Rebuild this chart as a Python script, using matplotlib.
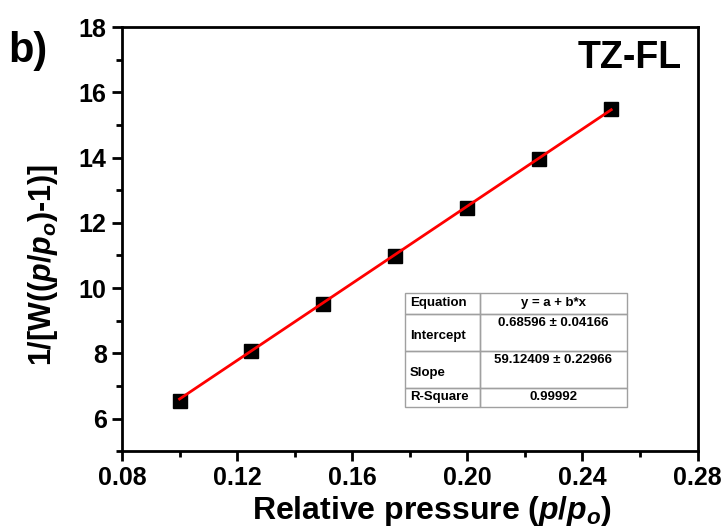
import matplotlib.pyplot as plt
from matplotlib.patches import Rectangle
from matplotlib.ticker import MultipleLocator

plt.rcParams['font.family'] = ['Liberation Sans', 'DejaVu Sans']
plt.rcParams['font.weight'] = 'bold'
plt.rcParams['axes.labelweight'] = 'bold'
plt.rcParams['mathtext.fontset'] = 'custom'
plt.rcParams['mathtext.it'] = 'Liberation Sans:italic:bold'
plt.rcParams['mathtext.rm'] = 'Liberation Sans:bold'

# data
rel_pressure = [0.10, 0.125, 0.15, 0.175, 0.20, 0.225, 0.25]
bet_value = [6.55, 8.06, 9.52, 10.98, 12.45, 13.96, 15.48]
intercept = 0.68596
slope = 59.12409

table_rows = [
    ('Equation', 'y = a + b*x'),
    ('Intercept', '0.68596 \u00b1 0.04166'),
    ('Slope', '59.12409 \u00b1 0.22966'),
    ('R-Square', '0.99992'),
]

fig = plt.figure(figsize=(7.24, 5.32), dpi=100)
ax = fig.add_axes([0.1685, 0.152, 0.795, 0.797])

ax.plot(rel_pressure, bet_value, 's', color='k', markersize=9.5, zorder=2)
fit_x = [rel_pressure[0], rel_pressure[-1]]
fit_y = [intercept + slope * x for x in fit_x]
ax.plot(fit_x, fit_y, '-', color='#ff0000', lw=2, zorder=3)

ax.set_xlim(0.08, 0.28)
ax.set_ylim(5, 18)
ax.set_xticks([0.08, 0.12, 0.16, 0.20, 0.24, 0.28])
ax.set_xticklabels(['0.08', '0.12', '0.16', '0.20', '0.24', '0.28'])
ax.set_yticks([6, 8, 10, 12, 14, 16, 18])
ax.xaxis.set_minor_locator(MultipleLocator(0.02))
ax.yaxis.set_minor_locator(MultipleLocator(1))
ax.tick_params(which='major', direction='out', length=7, width=2,
               labelsize=18, top=False, right=False, pad=4)
ax.tick_params(which='minor', direction='out', length=4, width=2,
               top=False, right=False)
for s in ax.spines.values():
    s.set_linewidth(2)

ax.set_xlabel(r'Relative pressure ($p/p_o$)', fontsize=23)
ax.xaxis.set_label_coords(0.539, -0.1)
ax.set_ylabel(r'1/[W(($p/p_o$)-1)]', fontsize=22)
ax.yaxis.set_label_coords(-0.108, 0.44)

ax.text(0.973, 0.928, 'TZ-FL', transform=ax.transAxes, ha='right',
        va='center', fontsize=27)
fig.text(0.012, 0.904, 'b)', fontsize=30, ha='left', va='center')

# fit results table
x0, x1, x2 = 0.492, 0.622, 0.877
row_h = [0.050, 0.087, 0.087, 0.046]
top = 0.374
grey = '#a0a0a0'
y = top
for (name, val), h in zip(table_rows, row_h):
    y -= h
    for xa, xb in ((x0, x1), (x1, x2)):
        ax.add_patch(Rectangle((xa, y), xb - xa, h, transform=ax.transAxes,
                               fill=False, edgecolor=grey, lw=1, zorder=4))
    if h > 0.06:
        ax.text(x0 + 0.008, y + h * 0.4, name, transform=ax.transAxes,
                ha='left', va='center', fontsize=9.5)
        ax.text((x1 + x2) / 2, y + h - 0.022, val, transform=ax.transAxes,
                ha='center', va='center', fontsize=9.5)
    else:
        ax.text(x0 + 0.008, y + h / 2, name, transform=ax.transAxes,
                ha='left', va='center', fontsize=9.5)
        ax.text((x1 + x2) / 2, y + h / 2, val, transform=ax.transAxes,
                ha='center', va='center', fontsize=9.5)

fig.savefig('out.png', dpi=100)
